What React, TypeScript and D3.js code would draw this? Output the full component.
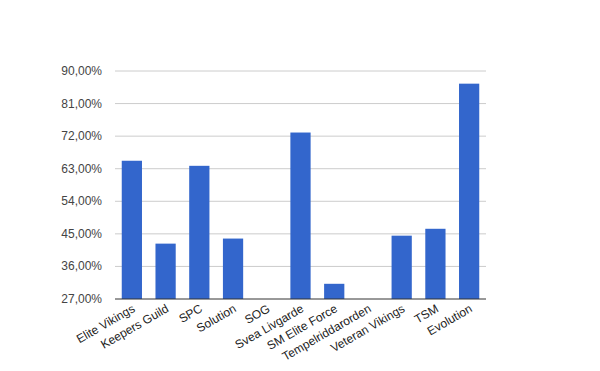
import React from "react";
import * as d3 from "d3";

const categories = ["Elite Vikings", "Keepers Guild", "SPC", "Solution", "SOG", "Svea Livgarde", "SM Elite Force", "Tempelriddarorden", "Veteran Vikings", "TSM", "Evolution"];
const values = [65.2, 42.3, 63.8, 43.7, 0, 73.0, 31.2, 0, 44.5, 46.4, 86.5];
const yTicks = [27, 36, 45, 54, 63, 72, 81, 90];

const W = 600, H = 371;
const left = 115, right = 486, top = 71, bottom = 299;

export default function App() {
  const x = d3.scaleBand<string>().domain(categories).range([left, right]).paddingInner(0.4).paddingOuter(0.2);
  const y = d3.scaleLinear().domain([27, 90]).range([bottom, top]);
  const fmt = (v: number) => v.toFixed(2).replace(".", ",") + "%";
  return (
    <svg width={W} height={H} style={{ position: "absolute", left: 0, top: 0, fontFamily: "'Liberation Sans', Arial, sans-serif" }}>
      <rect width={W} height={H} fill="#fff" />
      {yTicks.map((t) => (
        <g key={t}>
          {t !== 27 && <line x1={left} x2={right} y1={y(t)} y2={y(t)} stroke="#ccc" strokeWidth={1} />}
          <text x={left - 13} y={y(t) + 4} textAnchor="end" fontSize={12} fill="#444">{fmt(t)}</text>
        </g>
      ))}
      {categories.map((c, i) => {
        const v = Math.max(values[i], 27);
        const yt = y(v);
        return <rect key={c} x={x(c)} y={yt} width={x.bandwidth()} height={bottom - yt} fill="#3366cc" />;
      })}
      <line x1={left} x2={right} y1={bottom} y2={bottom} stroke="#333" strokeWidth={1} />
      {categories.map((c) => {
        const cx = (x(c) as number) + x.bandwidth() / 2 + 4;
        const cy = bottom + 12;
        return (
          <text key={c} x={cx} y={cy} transform={`rotate(-30 ${cx} ${cy})`} textAnchor="end" fontSize={12} fill="#222">{c}</text>
        );
      })}
    </svg>
  );
}
